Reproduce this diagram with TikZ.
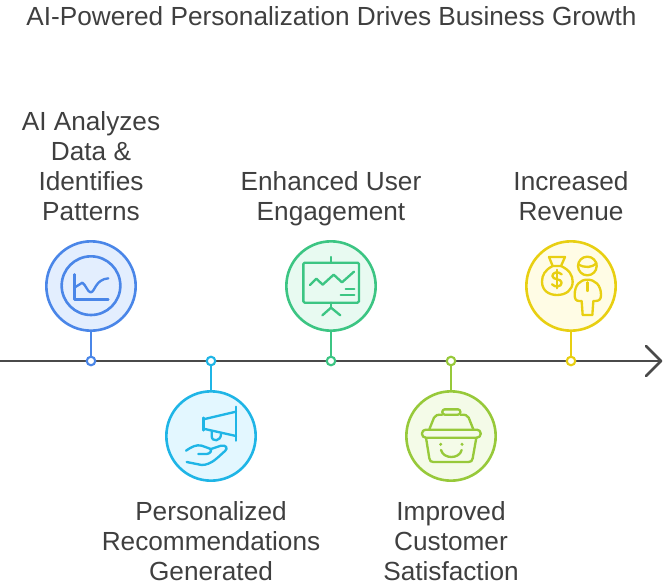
\documentclass[tikz,border=0pt]{standalone}
\usepackage{fontspec}
\setmainfont{Liberation Sans}
\usetikzlibrary{calc}
\definecolor{cA}{HTML}{4A86E8}\definecolor{fA}{HTML}{E3EEFE}
\definecolor{cB}{HTML}{1FB5E6}\definecolor{fB}{HTML}{E3F7FF}
\definecolor{cC}{HTML}{3CC583}\definecolor{fC}{HTML}{E8FAF1}
\definecolor{cD}{HTML}{97C93A}\definecolor{fD}{HTML}{F4FBE8}
\definecolor{cE}{HTML}{E8CF12}\definecolor{fE}{HTML}{FFFCE5}
\definecolor{axisc}{HTML}{4A4A4A}\definecolor{txt}{HTML}{3F3F3F}
\tikzset{
 hub/.style n args={2}{circle,draw=#1,fill=#2,line width=1.95pt,minimum size=67pt,inner sep=0pt},
 dot/.style={circle,draw=#1,fill=white,line width=1.6pt,minimum size=6.4pt,inner sep=0pt},
 stem/.style={draw=#1,line width=2pt},
 ic/.style={draw=#1,line width=1.75pt,line cap=round,line join=round},
 lab/.style={text=txt,font=\fontsize{19.65}{22.5}\selectfont,align=center,inner sep=0pt},
}
\begin{document}
\begin{tikzpicture}[x=0.75pt,y=-0.75pt]
\useasboundingbox (0,0) rectangle (663,588);
\node[text=txt,font=\fontsize{19.65}{22.5}\selectfont,inner sep=0pt] (title) at (331.5,16) {AI-Powered Personalization Drives Business Growth};
\coordinate (start) at (0,361);
\coordinate (tip) at (661,361);
\coordinate (tipa) at (646,346);
\coordinate (tipb) at (646,376);
\draw[axisc,line width=2.1pt] (start) -- (tip);
\draw[axisc,line width=2.1pt,line cap=round,line join=round] (tipa) -- (tip) -- (tipb);
\node[hub={cA}{fA}] (h1) at (91,286) {};
\node[hub={cB}{fB}] (h2) at (211,436) {};
\node[hub={cC}{fC}] (h3) at (331,286) {};
\node[hub={cD}{fD}] (h4) at (451,436) {};
\node[hub={cE}{fE}] (h5) at (571,286) {};
\node[dot=cA] (d1) at (91,361) {};
\node[dot=cB] (d2) at (211,361) {};
\node[dot=cC] (d3) at (331,361) {};
\node[dot=cD] (d4) at (451,361) {};
\node[dot=cE] (d5) at (571,361) {};
\draw[stem=cA] (h1) -- (d1);
\draw[stem=cB] (h2) -- (d2);
\draw[stem=cC] (h3) -- (d3);
\draw[stem=cD] (h4) -- (d4);
\draw[stem=cE] (h5) -- (d5);
% icon 1
\begin{scope}[shift={(40,235)},x=0.25pt,y=-0.25pt]
\draw[ic=cA,line width=1.95pt] (153,152) circle [radius=88];
\draw[ic=cA] (103,118) -- (103,193) -- (205,193);
\draw[ic=cA] (103,158) -- (127,143) .. controls (138,150) and (143,172) .. (152,172) .. controls (165,172) and (165,133) .. (205,130);
\end{scope}
% icon 2
\begin{scope}[shift={(160,350)},x=0.25pt,y=-0.25pt]
\draw[ic=cB] (228,170) -- (228,272);
\draw[ic=cB] (130,203) -- (130,241);
\draw[ic=cB] (130,208) -- (228,185);
\draw[ic=cB] (130,236) -- (228,258);
\draw[ic=cB] (155,243) -- (155,258) .. controls (155,277) and (183,275) .. (183,252);
\draw[ic=cB] (78,302) .. controls (95,290) and (110,283) .. (125,287) -- (150,296) .. controls (158,300) and (150,312) .. (140,312) -- (115,312);
\draw[ic=cB] (150,298) -- (183,287) .. controls (198,284) and (205,295) .. (195,303) .. controls (175,320) and (155,345) .. (125,345) -- (80,336);
\end{scope}
% icon 3
\begin{scope}[shift={(280,235)},x=0.25pt,y=-0.25pt]
\draw[ic=cC,rounded corners=1pt] (70,83) rectangle (237,203);
\draw[ic=cC] (153,66) -- (153,83);
\draw[ic=cC] (153,203) -- (153,218);
\draw[ic=cC] (127,241) -- (153,218) -- (181,241);
\draw[ic=cC] (90,150) -- (109,131) -- (128,149) -- (161,119) -- (186,142) -- (222,110);
\draw[ic=cC] (197,162) -- (223,162);
\draw[ic=cC] (182,179) -- (223,179);
\end{scope}
% icon 4
\begin{scope}[shift={(400,350)},x=0.25pt,y=-0.25pt]
\draw[ic=cD,rounded corners=1.8pt] (127,178) rectangle (181,194);
\draw[ic=cD] (88,238) -- (102,203) .. controls (106,195) and (112,194) .. (127,194);
\draw[ic=cD] (220,238) -- (206,203) .. controls (202,195) and (196,194) .. (181,194);
\draw[ic=cD,rounded corners=2.8pt] (66,239) rectangle (242,263);
\draw[ic=cD] (78,263) -- (88,325) .. controls (89,333) and (93,336) .. (100,336) -- (205,336) .. controls (213,336) and (217,333) .. (218,325) -- (229,263);
\draw[ic=cD] (123,300) .. controls (130,328) and (178,328) .. (185,300);
\fill[cD] (122,283) circle [radius=5];
\fill[cD] (186,283) circle [radius=5];
\end{scope}
% icon 5
\begin{scope}[shift={(520,235)},x=0.25pt,y=-0.25pt]
\draw[ic=cE] (87,66) -- (135,66) -- (123,93) -- (98,93) -- cycle;
\draw[ic=cE] (98,93) .. controls (75,105) and (66,120) .. (66,140) .. controls (66,168) and (88,180) .. (111,180) .. controls (138,180) and (158,165) .. (158,140) .. controls (158,120) and (148,105) .. (123,93);
\draw[ic=cE] (125,118) .. controls (115,108) and (97,112) .. (97,123) .. controls (97,135) and (125,130) .. (125,143) .. controls (125,156) and (105,158) .. (96,148);
\draw[ic=cE] (111,104) -- (111,160);
\draw[ic=cE] (202,93) circle [radius=28];
\draw[ic=cE] (175,88) .. controls (195,100) and (215,98) .. (230,85);
\draw[ic=cE] (202,142) -- (202,168);
\draw[ic=cE] (188,240) -- (185,198) -- (178,198) .. controls (168,198) and (164,192) .. (164,180) .. controls (164,150) and (180,134) .. (202,134) .. controls (225,134) and (243,150) .. (243,180) .. controls (243,192) and (238,198) .. (226,198) -- (220,198) -- (217,240) -- cycle;
\end{scope}
\node[lab] (t1) at (91,166) {AI Analyzes\\Data \&\\Identifies\\Patterns};
\node[lab] (t2) at (211,541) {Personalized\\Recommendations\\Generated};
\node[lab] (t3) at (331,199) {Enhanced User\\Engagement};
\node[lab] (t4) at (451,541) {Improved\\Customer\\Satisfaction};
\node[lab] (t5) at (571,196) {Increased\\Revenue};
\end{tikzpicture}
\end{document}
